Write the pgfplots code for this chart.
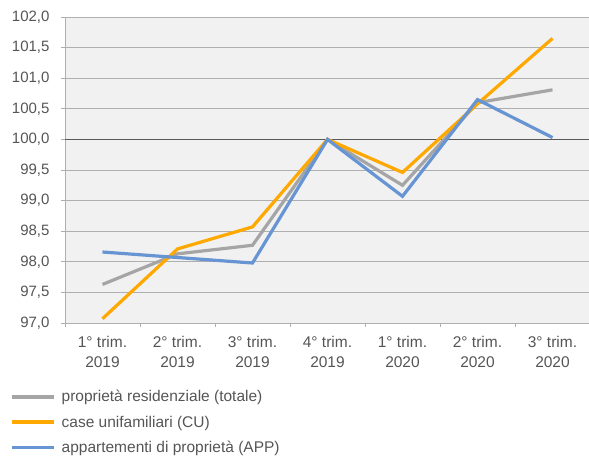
\documentclass[border=0pt]{standalone}
\usepackage{pgfplots}
\pgfplotsset{compat=1.18}
\usepackage{fontspec}
\setmainfont{Liberation Sans}
\definecolor{cgray}{RGB}{165,165,165}
\definecolor{corange}{RGB}{255,168,0}
\definecolor{cblue}{RGB}{103,148,210}
\definecolor{txt}{RGB}{85,85,85}
\definecolor{grid}{RGB}{175,175,175}
\definecolor{bgc}{RGB}{241,241,241}
\begin{document}
\begin{tikzpicture}
\begin{axis}[
  scale only axis, width=525pt, height=306pt,
  xmin=0.5, xmax=7.5, ymin=97, ymax=102,
  axis background/.style={fill=bgc},
  axis x line*=bottom, axis y line*=left,
  axis line style={-, draw=grid, line width=0.8pt},
  xtick={1,...,7},
  xticklabels={{1° trim.\\2019},{2° trim.\\2019},{3° trim.\\2019},{4° trim.\\2019},{1° trim.\\2020},{2° trim.\\2020},{3° trim.\\2020}},
  major x tick style={draw=none},
  minor xtick={0.5,1.5,...,7.5},
  minor x tick style={draw=grid, line width=0.8pt},
  minor tick length=4pt,
  tick align=outside,
  ytick={97,97.5,...,102},
  major tick length=4pt,
  y tick style={draw=grid, line width=0.8pt},
  ymajorgrids, grid style={draw=grid, line width=0.8pt},
  extra y ticks={100}, extra y tick labels={},
  extra y tick style={grid style={draw=black!65, line width=1pt}, major tick length=4pt},
  /pgf/number format/use comma,
  /pgf/number format/fixed,
  /pgf/number format/fixed zerofill,
  /pgf/number format/precision=1,
  /pgf/number format/assume math mode=true,
  y tick label style={font=\fontsize{15}{17}\selectfont, text=txt, xshift=-8pt},
  x tick label style={font=\fontsize{15.5}{19.5}\selectfont, text=txt, align=center, yshift=-6pt},
  legend cell align=left,
  legend style={at={(rel axis cs:-0.1048,-0.213)}, anchor=north west, draw=none, fill=none,
    font=\fontsize{15.5}{17}\selectfont, text=txt, row sep=8.5pt, inner sep=0pt,
    /tikz/every odd column/.append style={column sep=4pt}},
  legend image code/.code={\draw[#1, line width=3.5pt] (0pt,0pt) -- (42pt,0pt);},
  clip=false,
]
\addplot[cgray, line width=3.2pt] coordinates {(1,97.63) (2,98.13) (3,98.27) (4,100.0) (5,99.25) (6,100.6) (7,100.81)};
\addlegendentry{proprietà residenziale (totale)}
\addplot[corange, line width=3.2pt] coordinates {(1,97.07) (2,98.21) (3,98.57) (4,100.0) (5,99.46) (6,100.58) (7,101.65)};
\addlegendentry{case unifamiliari (CU)}
\addplot[cblue, line width=3.2pt] coordinates {(1,98.16) (2,98.07) (3,97.98) (4,100.0) (5,99.07) (6,100.65) (7,100.03)};
\addlegendentry{appartementi di proprietà (APP)}
\coordinate (bl) at (rel axis cs:0,0);
\coordinate (tr) at (rel axis cs:1,1);
\end{axis}
\pgfresetboundingbox
\path ([shift={(-65pt,-136pt)}]bl) rectangle ([shift={(-1pt,17pt)}]tr);
\end{tikzpicture}
\end{document}
